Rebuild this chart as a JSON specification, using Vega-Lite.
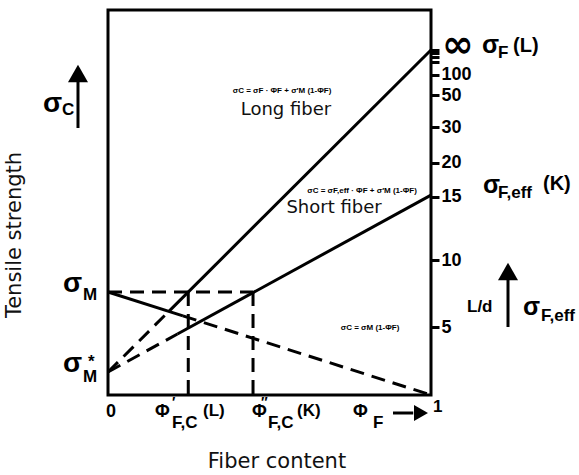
{
  "$schema": "https://vega.github.io/schema/vega-lite/v6.json",
  "width": 323,
  "height": 385,
  "autosize": {"type": "none"},
  "padding": {"left": 108, "top": 10, "right": 148, "bottom": 80},
  "background": "white",
  "config": {"view": {"stroke": "black", "strokeWidth": 3}},
  "datasets": {
    "solid": [
      {"seg": "long", "x": 0.19, "y": 21.86, "x2": 1, "y2": 89.61},
      {"seg": "short", "x": 0.215, "y": 15.84, "x2": 1, "y2": 51.9},
      {"seg": "matrix", "x": 0, "y": 26.75, "x2": 0.232, "y2": 20.54}
    ],
    "dashed": [
      {"seg": "long", "x": 0, "y": 5.97, "x2": 0.19, "y2": 21.86},
      {"seg": "short", "x": 0, "y": 5.97, "x2": 0.215, "y2": 15.84},
      {"seg": "matrix", "x": 0.232, "y": 20.54, "x2": 1, "y2": 0},
      {"seg": "sigmaM", "x": 0, "y": 26.75, "x2": 0.449, "y2": 26.75},
      {"seg": "phi1", "x": 0.2485, "y": 26.75, "x2": 0.2485, "y2": 0},
      {"seg": "phi2", "x": 0.449, "y": 26.75, "x2": 0.449, "y2": 0}
    ],
    "shafts": [
      {"a": "sigmaC", "x": -0.0929, "y": 69.35, "x2": -0.0929, "y2": 82.0},
      {"a": "sigmaEff", "x": 1.2384, "y": 17.66, "x2": 1.2384, "y2": 30.6},
      {"a": "phiF", "x": 0.8824, "y": -4.675, "x2": 0.945, "y2": -4.675}
    ],
    "headsUp": [
      {"a": "sigmaC", "x": -0.0929, "y": 83.51},
      {"a": "sigmaEff", "x": 1.2384, "y": 32.08}
    ],
    "headsRight": [{"a": "phiF", "x": 0.969, "y": -4.675}],
    "bigSigma": [
      {"t": "σ", "x": -0.2012, "y": 73.51},
      {"t": "σ", "x": -0.1393, "y": 26.75},
      {"t": "σ", "x": -0.1393, "y": 5.97}
    ],
    "rightSigma": [
      {"t": "σ", "x": 1.1579, "y": 88.83},
      {"t": "σ", "x": 1.161, "y": 52.47},
      {"t": "σ", "x": 1.2848, "y": 20.78}
    ],
    "sub17": [
      {"t": "C", "x": -0.1424, "y": 72.73},
      {"t": "M", "x": -0.0774, "y": 24.68},
      {"t": "M", "x": -0.0774, "y": 3.38},
      {"t": "*", "x": -0.062, "y": 7.3}
    ],
    "rightSub": [
      {"t": "F", "x": 1.2074, "y": 87.53},
      {"t": "F,eff", "x": 1.2074, "y": 51.17},
      {"t": "F,eff", "x": 1.3406, "y": 19.22}
    ],
    "rightParen": [
      {"t": "(L)", "x": 1.2539, "y": 89.09},
      {"t": "(K)", "x": 1.3467, "y": 53.25}
    ],
    "ldLabel": [{"t": "L/d", "x": 1.1115, "y": 21.56}],
    "infinity": [{"t": "∞", "x": 1.0341, "y": 87.8}],
    "bottomPhi": [
      {"t": "0", "x": -0.0062, "y": -5.71},
      {"t": "Φ", "x": 0.1455, "y": -5.71},
      {"t": "Φ", "x": 0.4458, "y": -5.71},
      {"t": "Φ", "x": 0.7585, "y": -5.71}
    ],
    "bottomSub": [
      {"t": "F,C", "x": 0.1981, "y": -8.57},
      {"t": "F,C", "x": 0.4954, "y": -8.57},
      {"t": "F", "x": 0.8204, "y": -8.57}
    ],
    "bottomParen": [
      {"t": "(L)", "x": 0.2941, "y": -5.45},
      {"t": "(K)", "x": 0.5851, "y": -5.45},
      {"t": "1", "x": 1.0062, "y": -4.42}
    ],
    "primes": [
      {"t": "′", "x": 0.198, "y": -3.0},
      {"t": "″", "x": 0.4737, "y": -3.0}
    ],
    "titles": [
      {"t": "Fiber content", "x": 0.5232, "y": -17.4}
    ],
    "ytitle": [
      {"t": "Tensile strength", "x": -0.2879, "y": 41.56}
    ],
    "curveLabels": [
      {"t": "Long fiber", "x": 0.5511, "y": 74.03},
      {"t": "Short fiber", "x": 0.6997, "y": 48.57}
    ],
    "formulas": [
      {"t": "σC = σF · ΦF  + σ′M (1-ΦF)", "x": 0.5387, "y": 78.96},
      {"t": "σC = σF,eff · ΦF + σ′M (1-ΦF)", "x": 0.7864, "y": 52.99},
      {"t": "σC = σM (1-ΦF)", "x": 0.8111, "y": 17.4}
    ]
  },
  "encoding": {
    "x": {"field": "x", "type": "quantitative", "scale": {"domain": [0, 1], "nice": false, "zero": false}, "axis": null},
    "y": {
      "field": "y", "type": "quantitative",
      "scale": {"domain": [0, 100], "nice": false, "zero": false},
      "axis": {
        "orient": "right", "title": null, "grid": false, "domain": false,
        "values": [17.66, 35.06, 51.43, 60.26, 69.61, 77.92, 83.12, 86.49, 87.79, 88.83, 89.61],
        "labelExpr": "datum.value < 20 ? '5' : datum.value < 40 ? '10' : datum.value < 55 ? '15' : datum.value < 65 ? '20' : datum.value < 72 ? '30' : datum.value < 80 ? '50' : datum.value < 85 ? '100' : ''",
        "tickSize": 8, "tickWidth": 3, "tickColor": "black",
        "labelPadding": 2, "labelFont": "Liberation Sans", "labelFontWeight": "bold",
        "labelFontSize": 18, "labelColor": "black", "labelOverlap": false, "labelBaseline": "middle"
      }
    }
  },
  "layer": [
    {
      "data": {"name": "dashed"},
      "mark": {"type": "rule", "strokeWidth": 3, "strokeDash": [14, 8], "color": "black"},
      "encoding": {"x2": {"field": "x2"}, "y2": {"field": "y2"}}
    },
    {
      "data": {"name": "solid"},
      "mark": {"type": "rule", "strokeWidth": 3, "color": "black"},
      "encoding": {"x2": {"field": "x2"}, "y2": {"field": "y2"}}
    },
    {
      "data": {"name": "shafts"},
      "mark": {"type": "rule", "strokeWidth": 3, "color": "black"},
      "encoding": {"x2": {"field": "x2"}, "y2": {"field": "y2"}}
    },
    {
      "data": {"name": "headsUp"},
      "mark": {"type": "point", "shape": "triangle-up", "filled": true, "size": 400, "color": "black", "opacity": 1}
    },
    {
      "data": {"name": "headsRight"},
      "mark": {"type": "point", "shape": "triangle-right", "filled": true, "size": 260, "color": "black", "opacity": 1}
    },
    {
      "data": {"name": "bigSigma"},
      "mark": {"type": "text", "align": "left", "baseline": "alphabetic", "font": "Liberation Sans", "fontWeight": "bold", "fontSize": 28, "color": "black"},
      "encoding": {"text": {"field": "t"}}
    },
    {
      "data": {"name": "rightSigma"},
      "mark": {"type": "text", "align": "left", "baseline": "alphabetic", "font": "Liberation Sans", "fontWeight": "bold", "fontSize": 25, "color": "black"},
      "encoding": {"text": {"field": "t"}}
    },
    {
      "data": {"name": "sub17"},
      "mark": {"type": "text", "align": "left", "baseline": "alphabetic", "font": "Liberation Sans", "fontWeight": "bold", "fontSize": 17, "color": "black"},
      "encoding": {"text": {"field": "t"}}
    },
    {
      "data": {"name": "rightSub"},
      "mark": {"type": "text", "align": "left", "baseline": "alphabetic", "font": "Liberation Sans", "fontWeight": "bold", "fontSize": 17, "color": "black"},
      "encoding": {"text": {"field": "t"}}
    },
    {
      "data": {"name": "rightParen"},
      "mark": {"type": "text", "align": "left", "baseline": "alphabetic", "font": "Liberation Sans", "fontWeight": "bold", "fontSize": 20, "color": "black"},
      "encoding": {"text": {"field": "t"}}
    },
    {
      "data": {"name": "ldLabel"},
      "mark": {"type": "text", "align": "left", "baseline": "alphabetic", "font": "Liberation Sans", "fontWeight": "bold", "fontSize": 17, "color": "black"},
      "encoding": {"text": {"field": "t"}}
    },
    {
      "data": {"name": "infinity"},
      "mark": {"type": "text", "align": "left", "baseline": "alphabetic", "font": "DejaVu Sans", "fontWeight": "bold", "fontSize": 38, "color": "black"},
      "encoding": {"text": {"field": "t"}}
    },
    {
      "data": {"name": "bottomPhi"},
      "mark": {"type": "text", "align": "left", "baseline": "alphabetic", "font": "Liberation Sans", "fontWeight": "bold", "fontSize": 18, "color": "black"},
      "encoding": {"text": {"field": "t"}}
    },
    {
      "data": {"name": "bottomSub"},
      "mark": {"type": "text", "align": "left", "baseline": "alphabetic", "font": "Liberation Sans", "fontWeight": "bold", "fontSize": 17, "color": "black"},
      "encoding": {"text": {"field": "t"}}
    },
    {
      "data": {"name": "bottomParen"},
      "mark": {"type": "text", "align": "left", "baseline": "alphabetic", "font": "Liberation Sans", "fontWeight": "bold", "fontSize": 17, "color": "black"},
      "encoding": {"text": {"field": "t"}}
    },
    {
      "data": {"name": "primes"},
      "mark": {"type": "text", "align": "left", "baseline": "alphabetic", "font": "Liberation Sans", "fontWeight": "bold", "fontSize": 14, "color": "black"},
      "encoding": {"text": {"field": "t"}}
    },
    {
      "data": {"name": "titles"},
      "mark": {"type": "text", "align": "center", "baseline": "middle", "font": "DejaVu Sans", "fontSize": 21, "color": "#111"},
      "encoding": {"text": {"field": "t"}}
    },
    {
      "data": {"name": "ytitle"},
      "mark": {"type": "text", "align": "center", "baseline": "middle", "angle": 270, "font": "DejaVu Sans", "fontSize": 21, "color": "#111"},
      "encoding": {"text": {"field": "t"}}
    },
    {
      "data": {"name": "curveLabels"},
      "mark": {"type": "text", "align": "center", "baseline": "middle", "font": "DejaVu Sans", "fontSize": 18, "color": "#111"},
      "encoding": {"text": {"field": "t"}}
    },
    {
      "data": {"name": "formulas"},
      "mark": {"type": "text", "align": "center", "baseline": "middle", "font": "Liberation Sans", "fontWeight": "bold", "fontSize": 8, "color": "black"},
      "encoding": {"text": {"field": "t"}}
    }
  ]
}
